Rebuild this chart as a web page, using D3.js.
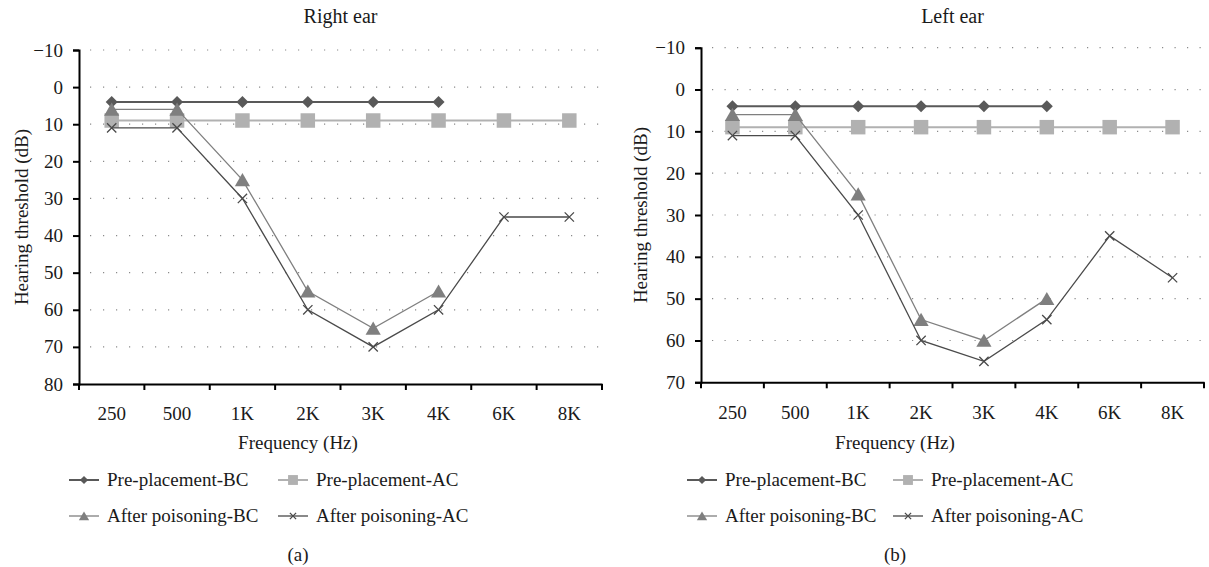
<!DOCTYPE html>
<html>
<head>
<meta charset="utf-8">
<script src="https://cdn.jsdelivr.net/npm/d3@7"></script>
<style>
  body { margin: 0; background: #fff; }
  svg text { font-family: "Liberation Serif", "Times New Roman", "DejaVu Serif", serif; fill: #1a1a1a; }
</style>
</head>
<body>
<svg id="chart" width="1209" height="567"></svg>
<script>
// frequencies on the x axis
let frequencies = ["250", "500", "1K", "2K", "3K", "4K", "6K", "8K"];

// right ear (a)
let rightPreBC = [4, 4, 4, 4, 4, 4, null, null];
let rightPreAC = [9, 9, 9, 9, 9, 9, 9, 9];
let rightAfterBC = [6, 6, 25, 55, 65, 55, null, null];
let rightAfterAC = [11, 11, 30, 60, 70, 60, 35, 35];
let rightTicks = [-10, 0, 10, 20, 30, 40, 50, 60, 70, 80];

// left ear (b)
let leftPreBC = [4, 4, 4, 4, 4, 4, null, null];
let leftPreAC = [9, 9, 9, 9, 9, 9, 9, 9];
let leftAfterBC = [6, 6, 25, 55, 60, 50, null, null];
let leftAfterAC = [11, 11, 30, 60, 65, 55, 35, 45];
let leftTicks = [-10, 0, 10, 20, 30, 40, 50, 60, 70];

let seriesNames = ["Pre-placement-BC", "Pre-placement-AC", "After poisoning-BC", "After poisoning-AC"];

let styles = [
    { color: "#595959", width: 2, marker: "diamond" },
    { color: "#b1b1b1", width: 2, marker: "square" },
    { color: "#7f7f7f", width: 1.3, marker: "triangle" },
    { color: "#4a4a4a", width: 1.3, marker: "x" }
];

let fontFamily = "'Liberation Serif', 'Times New Roman', 'DejaVu Serif', serif";
let svg = d3.select("#chart");

// draws one marker at the given spot, scale s (1 = plot size)
function drawMarker(g, type, color, x, y, s) {
    if (type === "diamond") {
        g.append("path")
            .attr("d", d3.symbol(d3.symbolDiamond2, 92 * s * s)())
            .attr("transform", "translate(" + x + "," + y + ")")
            .attr("fill", color);
    } else if (type === "square") {
        g.append("path")
            .attr("d", d3.symbol(d3.symbolSquare, 210 * s * s)())
            .attr("transform", "translate(" + x + "," + y + ")")
            .attr("fill", color);
    } else if (type === "triangle") {
        g.append("path")
            .attr("d", d3.symbol(d3.symbolTriangle, 100 * s * s)())
            .attr("transform", "translate(" + x + "," + (y + 2 * s) + ")")
            .attr("fill", color);
    } else {
        g.append("path")
            .attr("d", d3.symbol(d3.symbolX, 58 * s * s)())
            .attr("transform", "translate(" + x + "," + y + ")")
            .attr("fill", "none")
            .attr("stroke", color)
            .attr("stroke-width", 1.3);
    }
}

function drawPanel(cfg) {
    let g = svg.append("g");

    let x = d3.scaleBand()
        .domain(frequencies)
        .range([cfg.left, cfg.right]);

    let y = d3.scaleLinear()
        .domain([cfg.ticks[0], cfg.ticks[cfg.ticks.length - 1]])
        .range([cfg.top, cfg.bottom]);

    // dotted grid
    g.append("g")
        .selectAll("line")
        .data(cfg.ticks.slice(0, -1))
        .join("line")
        .attr("x1", cfg.left + 11)
        .attr("x2", cfg.right)
        .attr("y1", d => y(d))
        .attr("y2", d => y(d))
        .attr("stroke", "#8a8a8a")
        .attr("stroke-width", 1.2)
        .attr("stroke-dasharray", "1.2," + cfg.dot);

    // y axis
    let yAxis = g.append("g")
        .attr("transform", "translate(" + cfg.left + ",0)")
        .call(d3.axisLeft(y).tickValues(cfg.ticks).tickSize(6).tickPadding(10)
            .tickFormat(d => d < 0 ? "\u2212" + Math.abs(d) : d));
    yAxis.attr("font-family", fontFamily);
    yAxis.select(".domain").attr("stroke", "#000").attr("stroke-width", 2);
    yAxis.selectAll(".tick line").attr("stroke", "#000").attr("stroke-width", 2);
    yAxis.selectAll(".tick text").style("font-size", "19px").attr("fill", "#1a1a1a");

    // x axis
    let xAxis = g.append("g")
        .attr("transform", "translate(0," + cfg.bottom + ")")
        .call(d3.axisBottom(x).tickSize(0).tickPadding(23));
    xAxis.attr("font-family", fontFamily);
    xAxis.select(".domain").attr("stroke", "#000").attr("stroke-width", 2);
    xAxis.selectAll(".tick text").style("font-size", "19px").attr("fill", "#1a1a1a");
    // tick marks sit on band edges
    g.append("g")
        .selectAll("line")
        .data(frequencies.concat(["end"]))
        .join("line")
        .attr("x1", (d, i) => cfg.left + i * x.bandwidth())
        .attr("x2", (d, i) => cfg.left + i * x.bandwidth())
        .attr("y1", cfg.bottom)
        .attr("y2", cfg.bottom + 6)
        .attr("stroke", "#000")
        .attr("stroke-width", 2);

    // series
    cfg.series.forEach((vals, k) => {
        let st = styles[k];
        let pts = vals.map((v, i) => ({ f: frequencies[i], v: v })).filter(d => d.v !== null);
        let line = d3.line()
            .x(d => x(d.f) + x.bandwidth() / 2)
            .y(d => y(d.v));
        g.append("path")
            .datum(pts)
            .attr("fill", "none")
            .attr("stroke", st.color)
            .attr("stroke-width", st.width)
            .attr("d", line);
        pts.forEach(d => drawMarker(g, st.marker, st.color, x(d.f) + x.bandwidth() / 2, y(d.v), 1));
    });

    // titles
    g.append("text")
        .attr("x", (cfg.left + cfg.right) / 2)
        .attr("y", 23)
        .attr("text-anchor", "middle")
        .style("font-size", "20px")
        .text(cfg.title);

    g.append("text")
        .attr("transform", "translate(" + cfg.yLabelX + "," + ((cfg.top + cfg.bottom) / 2) + ") rotate(-90)")
        .attr("text-anchor", "middle")
        .style("font-size", "19px")
        .text("Hearing threshold (dB)");

    g.append("text")
        .attr("x", cfg.center)
        .attr("y", 449)
        .attr("text-anchor", "middle")
        .style("font-size", "19px")
        .text("Frequency (Hz)");

    // legend
    seriesNames.forEach((name, k) => {
        let st = styles[k];
        let lx = cfg.legendX[k % 2];
        let ly = k < 2 ? 480 : 516;
        g.append("line")
            .attr("x1", lx).attr("x2", lx + 30)
            .attr("y1", ly).attr("y2", ly)
            .attr("stroke", st.color)
            .attr("stroke-width", st.width);
        drawMarker(g, st.marker, st.color, lx + 15, ly, 0.68);
        g.append("text")
            .attr("x", lx + 38)
            .attr("y", ly + 6)
            .style("font-size", "19px")
            .text(name);
    });

    g.append("text")
        .attr("x", cfg.center)
        .attr("y", 561)
        .attr("text-anchor", "middle")
        .style("font-size", "19px")
        .text(cfg.caption);
}

drawPanel({
    title: "Right ear",
    caption: "(a)",
    left: 79, right: 602, top: 50, bottom: 384,
    ticks: rightTicks,
    dot: 11.8,
    yLabelX: 28,
    center: 298,
    legendX: [69, 278],
    series: [rightPreBC, rightPreAC, rightAfterBC, rightAfterAC]
});

drawPanel({
    title: "Left ear",
    caption: "(b)",
    left: 701, right: 1204, top: 47.7, bottom: 382.3,
    ticks: leftTicks,
    dot: 11.3,
    yLabelX: 647,
    center: 895,
    legendX: [687, 893],
    series: [leftPreBC, leftPreAC, leftAfterBC, leftAfterAC]
});
</script>
</body>
</html>
